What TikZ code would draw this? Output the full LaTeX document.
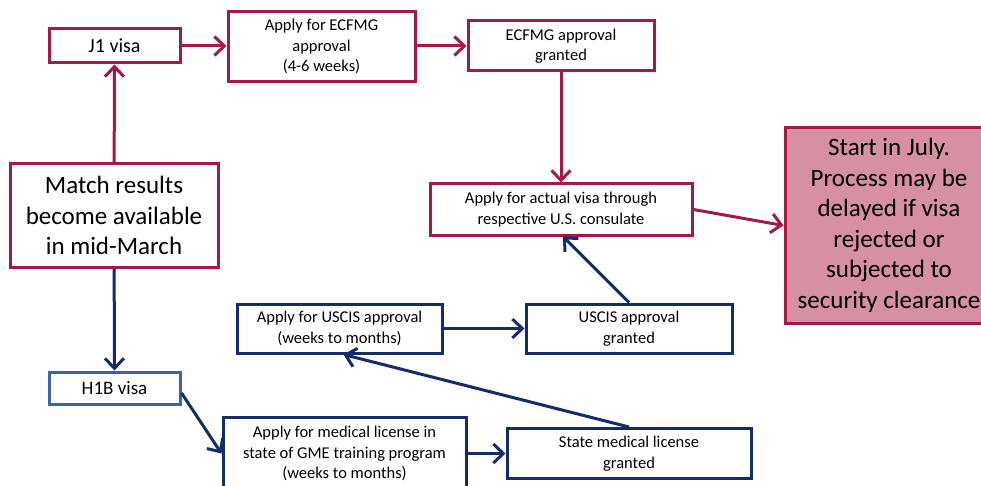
\documentclass[tikz,border=0pt]{standalone}
\usepackage{fontspec}
\setmainfont{Carlito}
\usetikzlibrary{arrows.meta}
\definecolor{crim}{RGB}{165,25,70}
\definecolor{navy}{RGB}{21,43,107}
\definecolor{lblue}{RGB}{59,99,168}
\definecolor{pinkf}{RGB}{214,143,164}
\tikzset{
  box/.style={draw, line width=3pt, fill=white, align=center, inner sep=0pt, font=\fontsize{16.5}{20.5}\selectfont},
  redbox/.style={box, draw=crim},
  bluebox/.style={box, draw=navy},
  bigtext/.style={font=\fontsize{25}{30.5}\selectfont},
  arr/.style={line width=3pt, -{Straight Barb[length=10pt,width=19pt,line width=3pt]}},
  redarr/.style={arr, draw=crim},
  bluearr/.style={arr, draw=navy}
}
\begin{document}
\begin{tikzpicture}[x=1pt,y=-1pt]
\useasboundingbox (0,0) rectangle (981,486);
\fill[white] (0,0) rectangle (981,486);
% red branch
\node[redbox, minimum width=131pt, minimum height=34pt, font=\fontsize{20}{24}\selectfont] (j1) at (114.5,46) {J1 visa};
\node[redbox, minimum width=187pt, minimum height=70pt] (ecfmg) at (321.5,46.5) {Apply for ECFMG\\approval\\(4-6 weeks)};
\node[redbox, minimum width=186pt, minimum height=50pt] (granted) at (561,46) {ECFMG approval\\granted};
\node[redbox, minimum width=262pt, minimum height=51pt] (visa) at (561,209.5) {Apply for actual visa through\\respective U.S. consulate};
\node[redbox, fill=pinkf, bigtext, minimum width=208pt, minimum height=195pt] (start) at (889,225.5) {Start in July.\\Process may be\\delayed if visa\\rejected or\\subjected to\\security clearance};
\node[redbox, bigtext, minimum width=208pt, minimum height=103pt] (match) at (114,215.5) {Match results\\become available\\in mid-March};
% blue branch
\node[box, draw=lblue, minimum width=131pt, minimum height=32pt, font=\fontsize{19}{23}\selectfont] (h1b) at (114.5,388) {H1B visa};
\node[bluebox, minimum width=205pt, minimum height=49pt] (uscis) at (339.5,328.5) {Apply for USCIS approval\\(weeks to months)};
\node[bluebox, minimum width=206pt, minimum height=49pt] (uscisg) at (629,328.5) {USCIS approval\\granted};
\node[bluebox, minimum width=243pt, minimum height=72pt] (lic) at (344.5,453.5) {Apply for medical license in\\state of GME training program\\(weeks to months)};
\node[bluebox, minimum width=244pt, minimum height=50pt] (stlic) at (629,453.5) {State medical license\\granted};
% connectors
\draw[redarr] (match) -- (j1);
\draw[redarr] (j1) -- (ecfmg.west |- j1.east);
\draw[redarr] (ecfmg.east |- granted.west) -- (granted.west);
\draw[redarr] (granted) -- (visa);
\draw[redarr] (visa.east) -- (start.west);
\draw[bluearr] (match) -- (h1b);
\draw[bluearr] ([yshift=-5pt]h1b.east) -- (lic.west);
\draw[bluearr] (lic) -- (stlic);
\draw[bluearr] (stlic.north) -- ([xshift=4pt]uscis.south);
\draw[bluearr] (uscis) -- (uscisg);
\draw[bluearr] (uscisg.north) -- ([xshift=2pt]visa.south);
\end{tikzpicture}
\end{document}
